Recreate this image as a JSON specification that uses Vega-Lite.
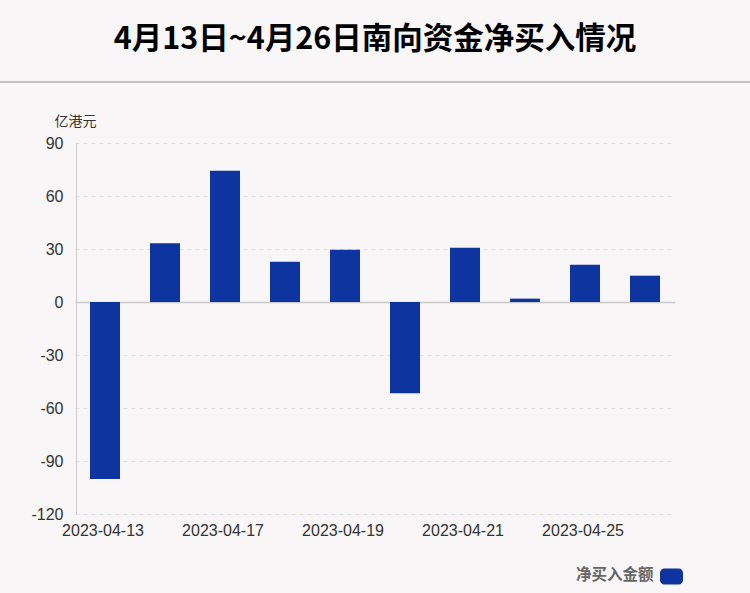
{
  "$schema": "https://vega.github.io/schema/vega-lite/v6.json",
  "autosize": "none",
  "width": 750,
  "height": 371,
  "padding": {"left": 0, "top": 143, "right": 0, "bottom": 79},
  "background": "#f8f6f7",
  "title": {
    "text": "4月13日~4月26日南向资金净买入情况",
    "font": "Noto Sans CJK SC",
    "fontSize": 30.5,
    "fontWeight": "bold",
    "color": "#000000",
    "anchor": "middle",
    "frame": "group",
    "offset": 26
  },
  "config": {
    "view": {"stroke": null},
    "axis": {"labelFont": "Liberation Sans", "labelFontSize": 16, "labelColor": "#333333"}
  },
  "data": {
    "values": [
      {"date": "2023-04-13", "value": -100.2, "series": "净买入金额"},
      {"date": "2023-04-14", "value": 33.2, "series": "净买入金额"},
      {"date": "2023-04-17", "value": 74.3, "series": "净买入金额"},
      {"date": "2023-04-18", "value": 22.8, "series": "净买入金额"},
      {"date": "2023-04-19", "value": 29.6, "series": "净买入金额"},
      {"date": "2023-04-20", "value": -51.7, "series": "净买入金额"},
      {"date": "2023-04-21", "value": 30.7, "series": "净买入金额"},
      {"date": "2023-04-24", "value": 1.9, "series": "净买入金额"},
      {"date": "2023-04-25", "value": 21.1, "series": "净买入金额"},
      {"date": "2023-04-26", "value": 14.9, "series": "净买入金额"}
    ]
  },
  "layer": [
    {
      "mark": {"type": "bar"},
      "encoding": {
        "x": {
          "field": "date",
          "type": "nominal",
          "sort": null,
          "scale": {"range": [75, 675], "paddingInner": 0.5, "paddingOuter": 0.25},
          "axis": {
            "title": null,
            "values": ["2023-04-13", "2023-04-17", "2023-04-19", "2023-04-21", "2023-04-25"],
            "labelAngle": 0,
            "domain": false,
            "ticks": false,
            "grid": false,
            "labelPadding": 8,
            "labelOffset": -2
          }
        },
        "y": {
          "field": "value",
          "type": "quantitative",
          "scale": {"domain": [-120, 90], "nice": false},
          "axis": {
            "values": [-120, -90, -60, -30, 0, 30, 60, 90],
            "labelExpr": "'' + datum.value",
            "offset": -76,
            "domainColor": "#cccccc",
            "domainWidth": 1,
            "ticks": false,
            "labelPadding": 13,
            "grid": true,
            "gridColor": {"condition": {"test": "datum.value === 0", "value": "#c8c8c8"}, "value": "#e2e0e1"},
            "gridDash": {"condition": {"test": "datum.value === 0", "value": []}, "value": [4, 4]},
            "gridWidth": {"condition": {"test": "datum.value === 0", "value": 1.5}, "value": 1},
            "title": "亿港元",
            "titleAngle": 0,
            "titleX": -1,
            "titleY": -22,
            "titleAlign": "center",
            "titleBaseline": "middle",
            "titleFont": "Noto Sans CJK SC",
            "titleFontSize": 14,
            "titleFontWeight": "normal",
            "titleColor": "#333333"
          }
        },
        "color": {
          "field": "series",
          "type": "nominal",
          "scale": {"range": ["#0e349f"]},
          "legend": {
            "orient": "none",
            "legendX": 576,
            "legendY": 422,
            "title": "净买入金额",
            "titleOrient": "left",
            "titleFont": "Noto Sans CJK SC",
            "titleFontSize": 15.5,
            "titleFontWeight": "bold",
            "titleColor": "#666666",
            "titlePadding": 6,
            "titleBaseline": "middle",
            "labelExpr": "''",
            "labelOffset": 0,
            "symbolType": "M-0.6,-0.7L0.6,-0.7A0.4,0.4 0 0 1 1,-0.3L1,0.3A0.4,0.4 0 0 1 0.6,0.7L-0.6,0.7A0.4,0.4 0 0 1 -1,0.3L-1,-0.3A0.4,0.4 0 0 1 -0.6,-0.7Z",
            "symbolSize": 529,
            "symbolStrokeWidth": 0,
            "symbolOpacity": 1
          }
        }
      }
    },
    {
      "data": {"values": [{"line": 1}]},
      "mark": {"type": "rule", "color": "#c4c2c3", "strokeWidth": 2},
      "encoding": {
        "y": {"datum": 124.5, "type": "quantitative"}
      }
    }
  ]
}
